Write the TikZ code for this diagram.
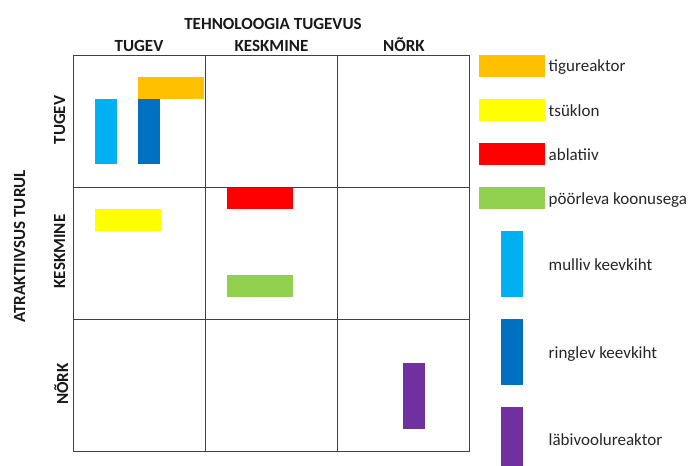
\documentclass[tikz,border=0pt]{standalone}
\usepackage{fontspec}
\setmainfont{Carlito}
\definecolor{tigu}{HTML}{FFC000}
\definecolor{tsyk}{HTML}{FFFF00}
\definecolor{abla}{HTML}{FF0000}
\definecolor{pool}{HTML}{92D050}
\definecolor{mull}{HTML}{00B0F0}
\definecolor{ring}{HTML}{0070C0}
\definecolor{labi}{HTML}{7030A0}

\begin{document}
\begin{tikzpicture}[x=1pt, y=-1pt,
	hdr/.style={font=\fontsize{17}{20}\selectfont\bfseries, text=black!90, inner sep=0pt, anchor=base},
	leg/.style={font=\fontsize{17}{20}\selectfont, text=black!85, inner sep=0pt, anchor=base west},
	gridline/.style={line width=1pt, color=black!75}]
			%%%%% START %%%%%
			
			\useasboundingbox (0, 0) rectangle (694, 466);
			
			\node[hdr] (title) at (273, 29) {TEHNOLOOGIA TUGEVUS};
			\node[hdr] (ctugev) at (139, 51) {TUGEV};
			\node[hdr] (ckesk) at (271.5, 51) {KESKMINE};
			\node[hdr] (cnork) at (404, 51) {NÕRK};
			
			\node[hdr, rotate=90] (atr) at (25, 246.5) {ATRAKTIIVSUS TURUL};
			\node[hdr, rotate=90] (rtugev) at (65, 120) {TUGEV};
			\node[hdr, rotate=90] (rkesk) at (65, 251.5) {KESKMINE};
			\node[hdr, rotate=90] (rnork) at (68, 384) {NÕRK};
			
			\draw[gridline] (73, 55) rectangle (469, 451);
			\foreach \k in {205, 337}
				\draw[gridline] (\k, 55) -- (\k, 451);
			\foreach \k in {187, 319}
				\draw[gridline] (73, \k) -- (469, \k);
			
			\fill[tigu] (138, 77) rectangle (204, 99);
			\fill[mull] (95, 99) rectangle (117, 164);
			\fill[ring] (138, 99) rectangle (160, 164);
			\fill[abla] (226.5, 188) rectangle (292.5, 209);
			\fill[tsyk] (95, 209) rectangle (160.5, 230.5);
			\fill[pool] (226.5, 274.5) rectangle (292.5, 296.5);
			\fill[labi] (402.5, 362.5) rectangle (424.5, 428.5);
			
			% legend
			\fill[tigu] (479, 55) rectangle (544.5, 76.5);
			\node[leg] (ltigu) at (548.5, 71.5) {tigureaktor};
			\fill[tsyk] (479, 99) rectangle (544.5, 120.5);
			\node[leg] (ltsyk) at (548.5, 116) {tsüklon};
			\fill[abla] (479, 143) rectangle (544.5, 164.5);
			\node[leg] (labla) at (548.5, 160) {ablatiiv};
			\fill[pool] (479, 187) rectangle (544.5, 208.5);
			\node[leg] (lpool) at (548.5, 204) {pöörleva koonusega};
			
			\fill[mull] (500.5, 231) rectangle (522.5, 296.5);
			\node[leg] (lmull) at (548.5, 270) {mulliv keevkiht};
			\fill[ring] (500.5, 319) rectangle (522.5, 384.5);
			\node[leg] (lring) at (548.5, 358) {ringlev keevkiht};
			\fill[labi] (500.5, 407) rectangle (522.5, 466);
			\node[leg] (llabi) at (548.5, 445.5) {läbivoolureaktor};
			
			%%%%% END %%%%%
\end{tikzpicture}
\end{document}
